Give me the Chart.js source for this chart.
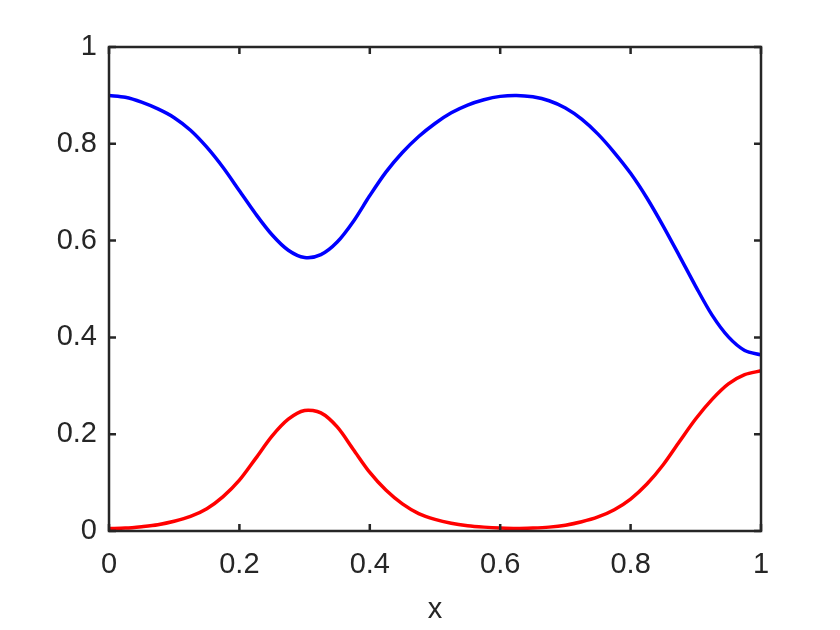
<!DOCTYPE html>
<html>
<head>
<meta charset="utf-8">
<script src="https://cdn.jsdelivr.net/npm/chart.js@4/dist/chart.umd.min.js"></script>
<style>
  html, body { margin: 0; padding: 0; background: #ffffff; }
  canvas { display: block; }
</style>
</head>
<body>
<canvas id="c" width="840" height="630"></canvas>
<script>
const blueX = [0, 0.025, 0.05, 0.075, 0.10, 0.125, 0.15, 0.175, 0.20, 0.225, 0.25, 0.275, 0.30, 0.325, 0.35, 0.375, 0.40, 0.425, 0.45, 0.475, 0.50, 0.525, 0.55, 0.575, 0.60, 0.625, 0.65, 0.675, 0.70, 0.725, 0.75, 0.775, 0.80, 0.825, 0.85, 0.875, 0.90, 0.925, 0.95, 0.975, 1.0];
const blueY = [0.900, 0.896, 0.886, 0.872, 0.854, 0.828, 0.793, 0.751, 0.703, 0.655, 0.612, 0.580, 0.565, 0.571, 0.597, 0.640, 0.693, 0.742, 0.782, 0.815, 0.842, 0.864, 0.880, 0.891, 0.898, 0.900, 0.897, 0.889, 0.874, 0.851, 0.820, 0.782, 0.739, 0.688, 0.630, 0.568, 0.505, 0.446, 0.401, 0.373, 0.364];
const redX = [0, 0.025, 0.05, 0.075, 0.10, 0.125, 0.15, 0.175, 0.20, 0.225, 0.25, 0.275, 0.30, 0.325, 0.35, 0.375, 0.40, 0.425, 0.45, 0.475, 0.50, 0.525, 0.55, 0.575, 0.60, 0.625, 0.65, 0.675, 0.70, 0.725, 0.75, 0.775, 0.80, 0.825, 0.85, 0.875, 0.90, 0.925, 0.95, 0.975, 1.0];
const redY = [0.005, 0.006, 0.009, 0.013, 0.020, 0.030, 0.046, 0.071, 0.105, 0.150, 0.196, 0.231, 0.249, 0.244, 0.215, 0.168, 0.121, 0.084, 0.056, 0.036, 0.024, 0.016, 0.011, 0.008, 0.006, 0.005, 0.006, 0.008, 0.012, 0.019, 0.029, 0.044, 0.066, 0.097, 0.137, 0.185, 0.232, 0.272, 0.304, 0.323, 0.331];
const xTicks = [0, 0.2, 0.4, 0.6, 0.8, 1];
const yTicks = [0, 0.2, 0.4, 0.6, 0.8, 1];
const xTitle = 'x';

const axisColor = '#262626';
const fontFamily = '"Liberation Sans", Arial, Helvetica, sans-serif';

const toPoints = (xs, ys) => xs.map((x, i) => ({ x: x, y: ys[i] }));

const framePlugin = {
  id: 'frame',
  afterDraw(chart) {
    const ctx = chart.ctx;
    const a = chart.chartArea;
    const xs = chart.scales.x, ys = chart.scales.y;
    const tl = 7;
    ctx.save();
    ctx.strokeStyle = axisColor;
    ctx.lineWidth = 2.5;
    ctx.beginPath();
    xTicks.forEach(v => {
      const px = xs.getPixelForValue(v);
      ctx.moveTo(px, a.bottom); ctx.lineTo(px, a.bottom - tl);
      ctx.moveTo(px, a.top); ctx.lineTo(px, a.top + tl);
    });
    yTicks.forEach(v => {
      const py = ys.getPixelForValue(v);
      ctx.moveTo(a.left, py); ctx.lineTo(a.left + tl, py);
      ctx.moveTo(a.right, py); ctx.lineTo(a.right - tl, py);
    });
    ctx.stroke();
    ctx.strokeRect(a.left, a.top, a.right - a.left, a.bottom - a.top);
    ctx.restore();
  }
};

new Chart(document.getElementById('c'), {
  type: 'scatter',
  data: {
    datasets: [
      { data: toPoints(blueX, blueY), borderColor: '#0000ff', borderWidth: 3.5, showLine: true, pointRadius: 0, tension: 0.3, fill: false },
      { data: toPoints(redX, redY), borderColor: '#ff0000', borderWidth: 3.5, showLine: true, pointRadius: 0, tension: 0.3, fill: false }
    ]
  },
  options: {
    responsive: false,
    animation: false,
    devicePixelRatio: 1,
    layout: { padding: { left: 0, right: 79, top: 47, bottom: 0 } },
    plugins: { legend: { display: false }, tooltip: { enabled: false } },
    scales: {
      x: {
        type: 'linear', min: 0, max: 1,
        afterBuildTicks: s => { s.ticks = xTicks.map(v => ({ value: v })); },
        afterFit: s => { s.height = 99; },
        grid: { display: false, drawTicks: false },
        border: { display: false },
        ticks: { padding: 17, color: axisColor, font: { family: fontFamily, size: 29 }, maxRotation: 0, callback: v => String(v) },
        title: { display: true, text: xTitle, color: axisColor, font: { family: fontFamily, size: 29 }, padding: { top: 0, bottom: 3 } }
      },
      y: {
        type: 'linear', min: 0, max: 1,
        afterBuildTicks: s => { s.ticks = yTicks.map(v => ({ value: v })); },
        afterFit: s => { s.width = 109; },
        grid: { display: false, drawTicks: false },
        border: { display: false },
        ticks: { padding: 12, color: axisColor, font: { family: fontFamily, size: 29 }, callback: v => String(v) }
      }
    }
  },
  plugins: [framePlugin]
});
</script>
</body>
</html>
